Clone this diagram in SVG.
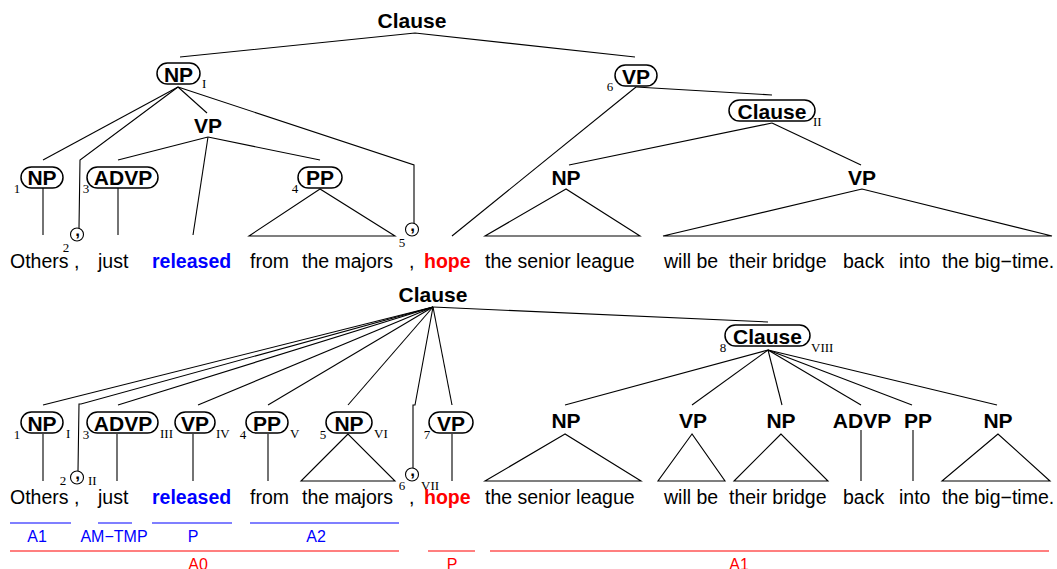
<svg xmlns="http://www.w3.org/2000/svg" width="1057" height="569" viewBox="0 0 1057 569">
<style>
.lbl{font-family:"Liberation Sans",Arial,sans-serif;font-weight:bold;font-size:21px;text-anchor:middle;fill:#000000}
.w{font-family:"Liberation Sans",Arial,sans-serif;font-size:19.5px}
.k{fill:#000000}
.wb{font-weight:bold;fill:#0000ff}
.wr{font-weight:bold;fill:#ff0000}
.sub{font-family:"Liberation Serif","Times New Roman",serif;font-size:13px;fill:#000000}
.subl{text-anchor:middle}
.box{fill:none;stroke:#000000;stroke-width:1.5}
.e{fill:none;stroke:#000000;stroke-width:1.1}
.cm{fill:none;stroke:#000000;stroke-width:1.1}
.cmt{font-family:"Liberation Sans",Arial,sans-serif;font-size:17px;font-weight:bold;text-anchor:middle;fill:#000000}
.srl{font-family:"Liberation Sans",Arial,sans-serif;font-size:16px;text-anchor:middle}
.sb{fill:#0000ff}
.sr{fill:#ff0000}
.lb{fill:none;stroke:#0000ff;stroke-width:1.2}
.lr{fill:none;stroke:#ff0000;stroke-width:1.2}
</style>
<rect width="1057" height="569" fill="#ffffff"/>

<!-- ================= TOP TREE ================= -->
<g id="top-connectors">
<polyline class="e" points="180,57 415,33 635,57"/>
<line class="e" x1="178" y1="87" x2="43" y2="160"/>
<polyline class="e" points="178,87 80,160 79,228"/>
<line class="e" x1="178" y1="87" x2="207" y2="113"/>
<polyline class="e" points="178,87 414,165 414,223"/>
<line class="e" x1="208" y1="137" x2="118" y2="160"/>
<line class="e" x1="208" y1="137" x2="193" y2="235"/>
<line class="e" x1="208" y1="137" x2="320" y2="160"/>
<line class="e" x1="43" y1="188" x2="43" y2="235"/>
<line class="e" x1="118" y1="188" x2="118" y2="235"/>
<polygon class="e" points="320,189 249,236 395,236"/>
<line class="e" x1="636" y1="87" x2="772" y2="95"/>
<line class="e" x1="636" y1="87" x2="452" y2="236"/>
<line class="e" x1="772" y1="123" x2="569" y2="165"/>
<line class="e" x1="772" y1="123" x2="861" y2="165"/>
<polygon class="e" points="566,189 485,236 640,236"/>
<polygon class="e" points="862,189 663,236 1052,236"/>
</g>

<g id="t-clause"><text class="lbl" x="412" y="28">Clause</text></g>
<g id="t-np-I"><rect class="box" x="157" y="63" width="43" height="21" rx="10.5"/><text class="lbl" x="178.5" y="82">NP</text><text class="sub" x="202" y="88">I</text></g>
<g id="t-vp-6"><rect class="box" x="615" y="65" width="42" height="21" rx="10.5"/><text class="lbl" x="636" y="84">VP</text><text class="sub subl" x="610" y="91">6</text></g>
<g id="t-vp-mid"><text class="lbl" x="208" y="133">VP</text></g>
<g id="t-clause-II"><rect class="box" x="729" y="100" width="86" height="21" rx="10.5"/><text class="lbl" x="772" y="119">Clause</text><text class="sub" x="813" y="126">II</text></g>
<g id="t-np-1"><rect class="box" x="21" y="167" width="42" height="21" rx="10.5"/><text class="lbl" x="42" y="185">NP</text><text class="sub subl" x="17" y="193">1</text></g>
<g id="t-advp-3"><rect class="box" x="87" y="167" width="71" height="21" rx="10.5"/><text class="lbl" x="123" y="185">ADVP</text><text class="sub subl" x="86" y="193">3</text></g>
<g id="t-pp-4"><rect class="box" x="298" y="167" width="44" height="21" rx="10.5"/><text class="lbl" x="320" y="185">PP</text><text class="sub subl" x="295" y="193">4</text></g>
<g id="t-comma-2"><circle class="cm" cx="77" cy="234.5" r="6.5"/><text class="cmt" x="77.5" y="236">,</text><text class="sub subl" x="66" y="252">2</text></g>
<g id="t-comma-5"><circle class="cm" cx="412" cy="229.5" r="6.5"/><text class="cmt" x="412.5" y="231">,</text><text class="sub subl" x="402" y="247">5</text></g>
<g id="t-np-r"><text class="lbl" x="566" y="185">NP</text></g>
<g id="t-vp-r"><text class="lbl" x="862" y="185">VP</text></g>

<g id="top-words">
<text class="w k" x="10" y="268">Others</text>
<text class="w k" x="74" y="268">,</text>
<text class="w k" x="98" y="268">just</text>
<text class="w wb" x="152" y="268">released</text>
<text class="w k" x="250" y="268">from</text>
<text class="w k" x="302" y="268">the majors</text>
<text class="w k" x="409" y="268">,</text>
<text class="w wr" x="424" y="268">hope</text>
<text class="w k" x="485" y="268">the senior league</text>
<text class="w k" x="664" y="268">will be</text>
<text class="w k" x="729" y="268">their bridge</text>
<text class="w k" x="843" y="268">back</text>
<text class="w k" x="899" y="268">into</text>
<text class="w k" x="942" y="268">the big−time.</text>
</g>

<!-- ================= BOTTOM TREE ================= -->
<g id="bottom-connectors">
<line class="e" x1="433" y1="307" x2="43" y2="405"/>
<polyline class="e" points="433,307 81,404 79,404 78,471"/>
<line class="e" x1="433" y1="307" x2="118" y2="405"/>
<line class="e" x1="433" y1="307" x2="198" y2="405"/>
<line class="e" x1="433" y1="307" x2="268" y2="405"/>
<line class="e" x1="433" y1="307" x2="348" y2="405"/>
<polyline class="e" points="433,307 415,405 413,405 413,468"/>
<line class="e" x1="433" y1="307" x2="452" y2="405"/>
<line class="e" x1="433" y1="307" x2="768" y2="322"/>
<line class="e" x1="43" y1="434" x2="43" y2="481"/>
<line class="e" x1="117" y1="434" x2="117" y2="481"/>
<line class="e" x1="193" y1="434" x2="193" y2="481"/>
<line class="e" x1="268" y1="434" x2="268" y2="481"/>
<polygon class="e" points="348,434 301,481 395,481"/>
<line class="e" x1="452" y1="434" x2="452" y2="481"/>
<line class="e" x1="768" y1="350" x2="565" y2="405"/>
<line class="e" x1="768" y1="350" x2="692" y2="405"/>
<line class="e" x1="768" y1="350" x2="782" y2="405"/>
<line class="e" x1="768" y1="350" x2="861" y2="405"/>
<line class="e" x1="768" y1="350" x2="912" y2="405"/>
<line class="e" x1="768" y1="350" x2="997" y2="405"/>
<polygon class="e" points="565,434 485,481 641,481"/>
<polygon class="e" points="692,434 658,481 725,481"/>
<polygon class="e" points="781,434 734,481 828,481"/>
<line class="e" x1="861" y1="430" x2="861" y2="481"/>
<line class="e" x1="913" y1="430" x2="913" y2="481"/>
<polygon class="e" points="998,434 942,481 1050,481"/>
</g>

<g id="b-clause"><text class="lbl" x="433" y="302">Clause</text></g>
<g id="b-clause-VIII"><rect class="box" x="725" y="325" width="85" height="21" rx="10.5"/><text class="lbl" x="767.5" y="344">Clause</text><text class="sub subl" x="723" y="352">8</text><text class="sub" x="811" y="352">VIII</text></g>
<g id="b-np-1"><rect class="box" x="21" y="412" width="42" height="21" rx="10.5"/><text class="lbl" x="42" y="431">NP</text><text class="sub subl" x="17" y="439">1</text><text class="sub" x="66" y="438">I</text></g>
<g id="b-advp-3"><rect class="box" x="87" y="412" width="71" height="21" rx="10.5"/><text class="lbl" x="123" y="431">ADVP</text><text class="sub subl" x="86" y="439">3</text><text class="sub" x="160" y="438">III</text></g>
<g id="b-vp-IV"><rect class="box" x="175" y="412" width="40" height="21" rx="10.5"/><text class="lbl" x="195" y="431">VP</text><text class="sub" x="216" y="438">IV</text></g>
<g id="b-pp-4"><rect class="box" x="246" y="412" width="42" height="21" rx="10.5"/><text class="lbl" x="267" y="431">PP</text><text class="sub subl" x="243" y="439">4</text><text class="sub" x="290" y="438">V</text></g>
<g id="b-np-5"><rect class="box" x="326" y="412" width="46" height="21" rx="10.5"/><text class="lbl" x="349" y="431">NP</text><text class="sub subl" x="323" y="439">5</text><text class="sub" x="374" y="438">VI</text></g>
<g id="b-vp-7"><rect class="box" x="429" y="412" width="44" height="21" rx="10.5"/><text class="lbl" x="451" y="431">VP</text><text class="sub subl" x="427" y="439">7</text></g>
<g id="b-comma-2"><circle class="cm" cx="77" cy="477.5" r="6.5"/><text class="cmt" x="77.5" y="479">,</text><text class="sub subl" x="63" y="485">2</text><text class="sub" x="88" y="485">II</text></g>
<g id="b-comma-6"><circle class="cm" cx="412" cy="474.5" r="6.5"/><text class="cmt" x="412.5" y="476">,</text><text class="sub subl" x="402" y="490">6</text><text class="sub" x="421" y="490">VII</text></g>
<g id="b-np-a"><text class="lbl" x="566" y="428">NP</text></g>
<g id="b-vp-b"><text class="lbl" x="693" y="428">VP</text></g>
<g id="b-np-c"><text class="lbl" x="781" y="428">NP</text></g>
<g id="b-advp-d"><text class="lbl" x="862" y="428">ADVP</text></g>
<g id="b-pp-e"><text class="lbl" x="918" y="428">PP</text></g>
<g id="b-np-f"><text class="lbl" x="998" y="428">NP</text></g>

<g id="bottom-words">
<text class="w k" x="10" y="504">Others</text>
<text class="w k" x="74" y="504">,</text>
<text class="w k" x="98" y="504">just</text>
<text class="w wb" x="152" y="504">released</text>
<text class="w k" x="250" y="504">from</text>
<text class="w k" x="302" y="504">the majors</text>
<text class="w k" x="409" y="504">,</text>
<text class="w wr" x="424" y="504">hope</text>
<text class="w k" x="485" y="504">the senior league</text>
<text class="w k" x="664" y="504">will be</text>
<text class="w k" x="729" y="504">their bridge</text>
<text class="w k" x="843" y="504">back</text>
<text class="w k" x="899" y="504">into</text>
<text class="w k" x="942" y="504">the big−time.</text>
</g>

<!-- ================= SRL ================= -->
<g id="srl-lines">
<line class="lb" x1="10" y1="523" x2="71" y2="523"/>
<line class="lb" x1="98" y1="523" x2="132" y2="523"/>
<line class="lb" x1="152" y1="523" x2="232" y2="523"/>
<line class="lb" x1="250" y1="523" x2="399" y2="523"/>
<line class="lr" x1="10" y1="551" x2="399" y2="551"/>
<line class="lr" x1="428" y1="551" x2="475" y2="551"/>
<line class="lr" x1="490" y1="551" x2="1049" y2="551"/>
</g>
<g id="srl-labels">
<text class="srl sb" x="37" y="542">A1</text>
<text class="srl sb" x="114" y="542">AM−TMP</text>
<text class="srl sb" x="193" y="542">P</text>
<text class="srl sb" x="316" y="542">A2</text>
<text class="srl sr" x="198" y="570">A0</text>
<text class="srl sr" x="452" y="570">P</text>
<text class="srl sr" x="739" y="570">A1</text>
</g>
</svg>
